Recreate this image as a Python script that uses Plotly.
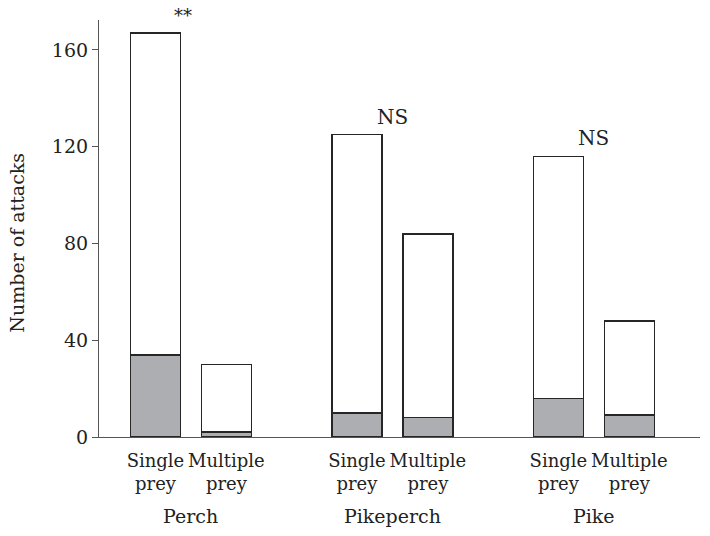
import plotly.graph_objects as go

# ---- data ----
species = ["Perch", "Pikeperch", "Pike"]
prey_types = ["Single<br>prey", "Multiple<br>prey"]
total_attacks = [167, 30, 125, 84, 116, 48]      # full bar heights
grey_attacks = [34, 2, 10, 8, 16, 9]             # grey (lower) segments
significance = ["**", "NS", "NS"]
y_ticks = [0, 40, 80, 120, 160]

# ---- layout helpers ----
group_step = 2.84      # distance between groups (in bar-spacing units)
bar_width = 0.704
x_pos = []
tick_text = []
for g in range(len(species)):
    for p in range(len(prey_types)):
        x_pos.append(g * group_step + p)
        tick_text.append(prey_types[p])
group_mid = [g * group_step + 0.5 for g in range(len(species))]
white_part = [t - s for t, s in zip(total_attacks, grey_attacks)]

FONT = "DejaVu Serif"
OUTLINE = "#262626"

fig = go.Figure()
fig.add_trace(go.Bar(
    x=x_pos, y=grey_attacks, width=bar_width,
    marker=dict(color="#adaeb2", line=dict(color=OUTLINE, width=1.6)),
    showlegend=False, hoverinfo="skip"))
fig.add_trace(go.Bar(
    x=x_pos, y=white_part, width=bar_width,
    marker=dict(color="white", line=dict(color=OUTLINE, width=1.6)),
    showlegend=False, hoverinfo="skip"))

annotations = []
for g, lab in enumerate(significance):
    annotations.append(dict(
        x=group_mid[g], y=total_attacks[2 * g], xref="x", yref="y",
        text=lab, showarrow=False, yanchor="middle", yshift=18,
        xshift=-8 if lab == "**" else 0,
        font=dict(family=FONT, size=20 if lab == "NS" else 18, color="#222")))
for g, name in enumerate(species):
    annotations.append(dict(
        x=group_mid[g], y=-0.19, xref="x", yref="paper",
        text=name, showarrow=False, yanchor="middle",
        font=dict(family=FONT, size=19, color="#222")))
annotations.append(dict(
    x=-0.1355, y=0.465, xref="paper", yref="paper",
    text="Number of attacks", showarrow=False, textangle=-90,
    xanchor="center", yanchor="middle",
    font=dict(family=FONT, size=19, color="#222")))

fig.update_layout(
    barmode="stack",
    width=710, height=536,
    margin=dict(l=98.5, r=10, t=20, b=99.3),
    paper_bgcolor="white", plot_bgcolor="white",
    font=dict(family=FONT, size=19, color="#222"),
    annotations=annotations,
    xaxis=dict(
        range=[-0.796, 7.676], tickvals=x_pos, ticktext=tick_text,
        tickangle=0, ticklabelstandoff=7, automargin=False,
        showline=True, linecolor="#555", linewidth=1.2,
        ticks="", showgrid=False, zeroline=False,
        tickfont=dict(family=FONT, size=18, color="#222")),
    yaxis=dict(
        range=[0, 172.4], tickvals=y_ticks, automargin=False,
        showline=True, linecolor="#555", linewidth=1.2,
        ticks="outside", ticklen=6, tickcolor="#555", tickwidth=1.2,
        showgrid=False, zeroline=False,
        tickfont=dict(family=FONT, size=19, color="#222")),
)

# remove the browser's default 8px page margin so the figure fills the window
fig.write_html("out.html", config={"displayModeBar": False},
               post_script="document.body.style.margin='0';")
